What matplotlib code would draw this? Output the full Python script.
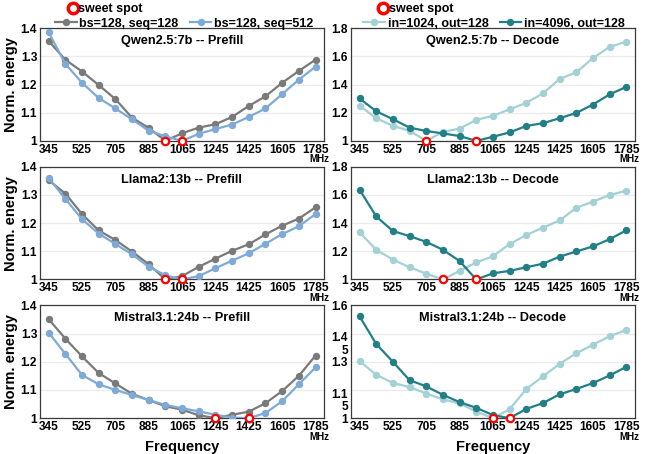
import matplotlib.pyplot as plt
from matplotlib.lines import Line2D
from matplotlib.transforms import ScaledTranslation

plt.rcParams['font.family'] = ['Liberation Sans', 'DejaVu Sans']
plt.rcParams['font.weight'] = 'bold'
plt.rcParams['axes.labelweight'] = 'bold'

freqs = [345, 435, 525, 615, 705, 795, 885, 975, 1065, 1155, 1245, 1335, 1425, 1515, 1605, 1695, 1785]
freq_ticks = [345, 525, 705, 885, 1065, 1245, 1425, 1605, 1785]

prefill_labels = ["bs=128, seq=128", "bs=128, seq=512"]
decode_labels = ["in=1024, out=128", "in=4096, out=128"]

# prefill: bs=128 seq=128 / bs=128 seq=512
qwen_pre_128 = [1.354, 1.288, 1.246, 1.198, 1.148, 1.082, 1.046, 1.000, 1.027, 1.047, 1.059,
                1.085, 1.124, 1.158, 1.206, 1.248, 1.288]
qwen_pre_512 = [1.385, 1.273, 1.206, 1.152, 1.115, 1.076, 1.036, 1.016, 1.000, 1.025, 1.042,
                1.058, 1.085, 1.115, 1.166, 1.217, 1.263]
llama_pre_128 = [1.352, 1.305, 1.232, 1.174, 1.140, 1.099, 1.054, 1.000, 1.012, 1.045, 1.074,
                 1.102, 1.125, 1.160, 1.191, 1.216, 1.256]
llama_pre_512 = [1.360, 1.286, 1.214, 1.163, 1.126, 1.089, 1.045, 1.015, 1.000, 1.012, 1.040,
                 1.067, 1.093, 1.127, 1.161, 1.189, 1.232]
mistral_pre_128 = [1.351, 1.282, 1.219, 1.160, 1.123, 1.086, 1.064, 1.042, 1.030, 1.010, 1.000,
                   1.012, 1.023, 1.053, 1.096, 1.150, 1.222]
mistral_pre_512 = [1.303, 1.228, 1.153, 1.120, 1.100, 1.082, 1.064, 1.047, 1.035, 1.024, 1.012,
                   1.002, 1.000, 1.018, 1.060, 1.120, 1.180]

# decode: in=1024 out=128 / in=4096 out=128
qwen_dec_1024 = [1.250, 1.161, 1.106, 1.072, 1.000, 1.063, 1.087, 1.149, 1.178, 1.224, 1.270,
                 1.337, 1.439, 1.487, 1.588, 1.667, 1.704]
qwen_dec_4096 = [1.301, 1.210, 1.154, 1.094, 1.070, 1.053, 1.034, 1.000, 1.029, 1.060, 1.106,
                 1.125, 1.161, 1.198, 1.258, 1.330, 1.383]
llama_dec_1024 = [1.335, 1.211, 1.141, 1.087, 1.041, 1.000, 1.061, 1.121, 1.165, 1.252, 1.315,
                  1.368, 1.419, 1.509, 1.553, 1.599, 1.630]
llama_dec_4096 = [1.638, 1.448, 1.344, 1.308, 1.267, 1.211, 1.131, 1.000, 1.044, 1.061, 1.087,
                  1.112, 1.162, 1.199, 1.235, 1.286, 1.349]
mistral_dec_1024 = [1.304, 1.231, 1.187, 1.165, 1.131, 1.100, 1.078, 1.035, 1.000, 1.047, 1.155,
                    1.222, 1.289, 1.345, 1.391, 1.436, 1.469]
mistral_dec_4096 = [1.542, 1.395, 1.300, 1.202, 1.169, 1.124, 1.085, 1.055, 1.016, 1.000, 1.049,
                    1.080, 1.127, 1.155, 1.187, 1.227, 1.273]

prefill_ticks = [1, 1.1, 1.2, 1.3, 1.4]
prefill_ticklabels = ["1", "1.1", "1.2", "1.3", "1.4"]
decode_ticks = [1, 1.2, 1.4, 1.6, 1.8]
decode_ticklabels = ["1", "1.2", "1.4", "1.6", "1.8"]
mistral_dec_ticks = [1, 1.15, 1.3, 1.45, 1.6]
mistral_dec_ticklabels = ["1", "1.1\n5", "1.3", "1.4\n5", "1.6"]

prefill_colors = ["#7a7a7a", "#7eaad8"]
decode_colors = ["#a3d1d5", "#237f86"]

panels = [
    ("Qwen2.5:7b -- Prefill", qwen_pre_128, qwen_pre_512, prefill_colors, prefill_labels,
     prefill_ticks, prefill_ticklabels),
    ("Qwen2.5:7b -- Decode", qwen_dec_1024, qwen_dec_4096, decode_colors, decode_labels,
     decode_ticks, decode_ticklabels),
    ("Llama2:13b -- Prefill", llama_pre_128, llama_pre_512, prefill_colors, prefill_labels,
     prefill_ticks, prefill_ticklabels),
    ("Llama2:13b -- Decode", llama_dec_1024, llama_dec_4096, decode_colors, decode_labels,
     decode_ticks, decode_ticklabels),
    ("Mistral3.1:24b -- Prefill", mistral_pre_128, mistral_pre_512, prefill_colors, prefill_labels,
     prefill_ticks, prefill_ticklabels),
    ("Mistral3.1:24b -- Decode", mistral_dec_1024, mistral_dec_4096, decode_colors, decode_labels,
     mistral_dec_ticks, mistral_dec_ticklabels),
]

fig, axes = plt.subplots(3, 2, figsize=(6.45, 4.54), dpi=100)
fig.subplots_adjust(left=0.062, right=0.984, top=0.938, bottom=0.079, wspace=0.095, hspace=0.23)

for i, (title, s1, s2, colors, labels, yt, ytl) in enumerate(panels):
    ax = axes.flat[i]
    h1, = ax.plot(freqs, s1, color=colors[0], lw=1.6, marker="o", ms=4.3, label=labels[0], zorder=3)
    h2, = ax.plot(freqs, s2, color=colors[1], lw=1.6, marker="o", ms=4.3, label=labels[1], zorder=4)

    # sweet spot = minimum of each series
    for s in (s1, s2):
        k = s.index(min(s))
        ax.plot([freqs[k]], [s[k]], ls="none", marker="o", ms=5.3, mfc="white", mec="red",
                mew=1.6, zorder=6, clip_on=False)

    ax.set_xlim(298, 1830)
    ax.set_ylim(yt[0], yt[-1])
    ax.set_xticks(freq_ticks)
    ax.set_xticklabels([str(f) for f in freq_ticks], fontweight="bold")
    ax.set_yticks(yt)
    ax.set_yticklabels(ytl, fontweight="bold", linespacing=1.08)
    ax.tick_params(length=0, labelsize=8.6, pad=2)
    # wrapped labels: keep the first line on the tick
    for lab in ax.get_yticklabels():
        if "\n" in lab.get_text():
            lab.set_va("top")
            lab.set_transform(lab.get_transform() +
                              ScaledTranslation(0, 1.0 / 72, fig.dpi_scale_trans))
    ax.grid(axis="y", color="#ebebeb", lw=0.9)
    ax.set_axisbelow(True)
    for sp in ax.spines.values():
        sp.set_color("#3a3a3a")
        sp.set_linewidth(0.9)

    ax.text(0.5, 0.885, title, transform=ax.transAxes, ha="center", va="center", fontsize=9.2)
    ax.text(1.018, -0.165, "MHz", transform=ax.transAxes, ha="right", va="center", fontsize=7)

    if i % 2 == 0:
        ax.set_ylabel("Norm. energy", fontsize=10.5, labelpad=2)
    if i >= 4:
        ax.set_xlabel("Frequency", fontsize=10.5, labelpad=5)

    if i < 2:
        sweet = Line2D([], [], ls="none", marker="o", ms=7.5, mfc="white", mec="red", mew=2.5)
        x0 = 0.107 if i == 0 else 0.588
        x1 = 0.085 if i == 0 else 0.563
        fig.legend(handles=[sweet], labels=["sweet spot"], loc="upper left",
                   bbox_to_anchor=(x0, 0.993), frameon=False, borderpad=0, borderaxespad=0,
                   handlelength=0.6, handletextpad=0.15, fontsize=9)
        fig.legend(handles=[h1, h2], loc="upper left", bbox_to_anchor=(x1, 0.961), ncol=2,
                   frameon=False, borderpad=0, borderaxespad=0, handlelength=1.75,
                   handletextpad=0.2, columnspacing=0.9, fontsize=9)

fig.savefig("out.png", dpi=100)
